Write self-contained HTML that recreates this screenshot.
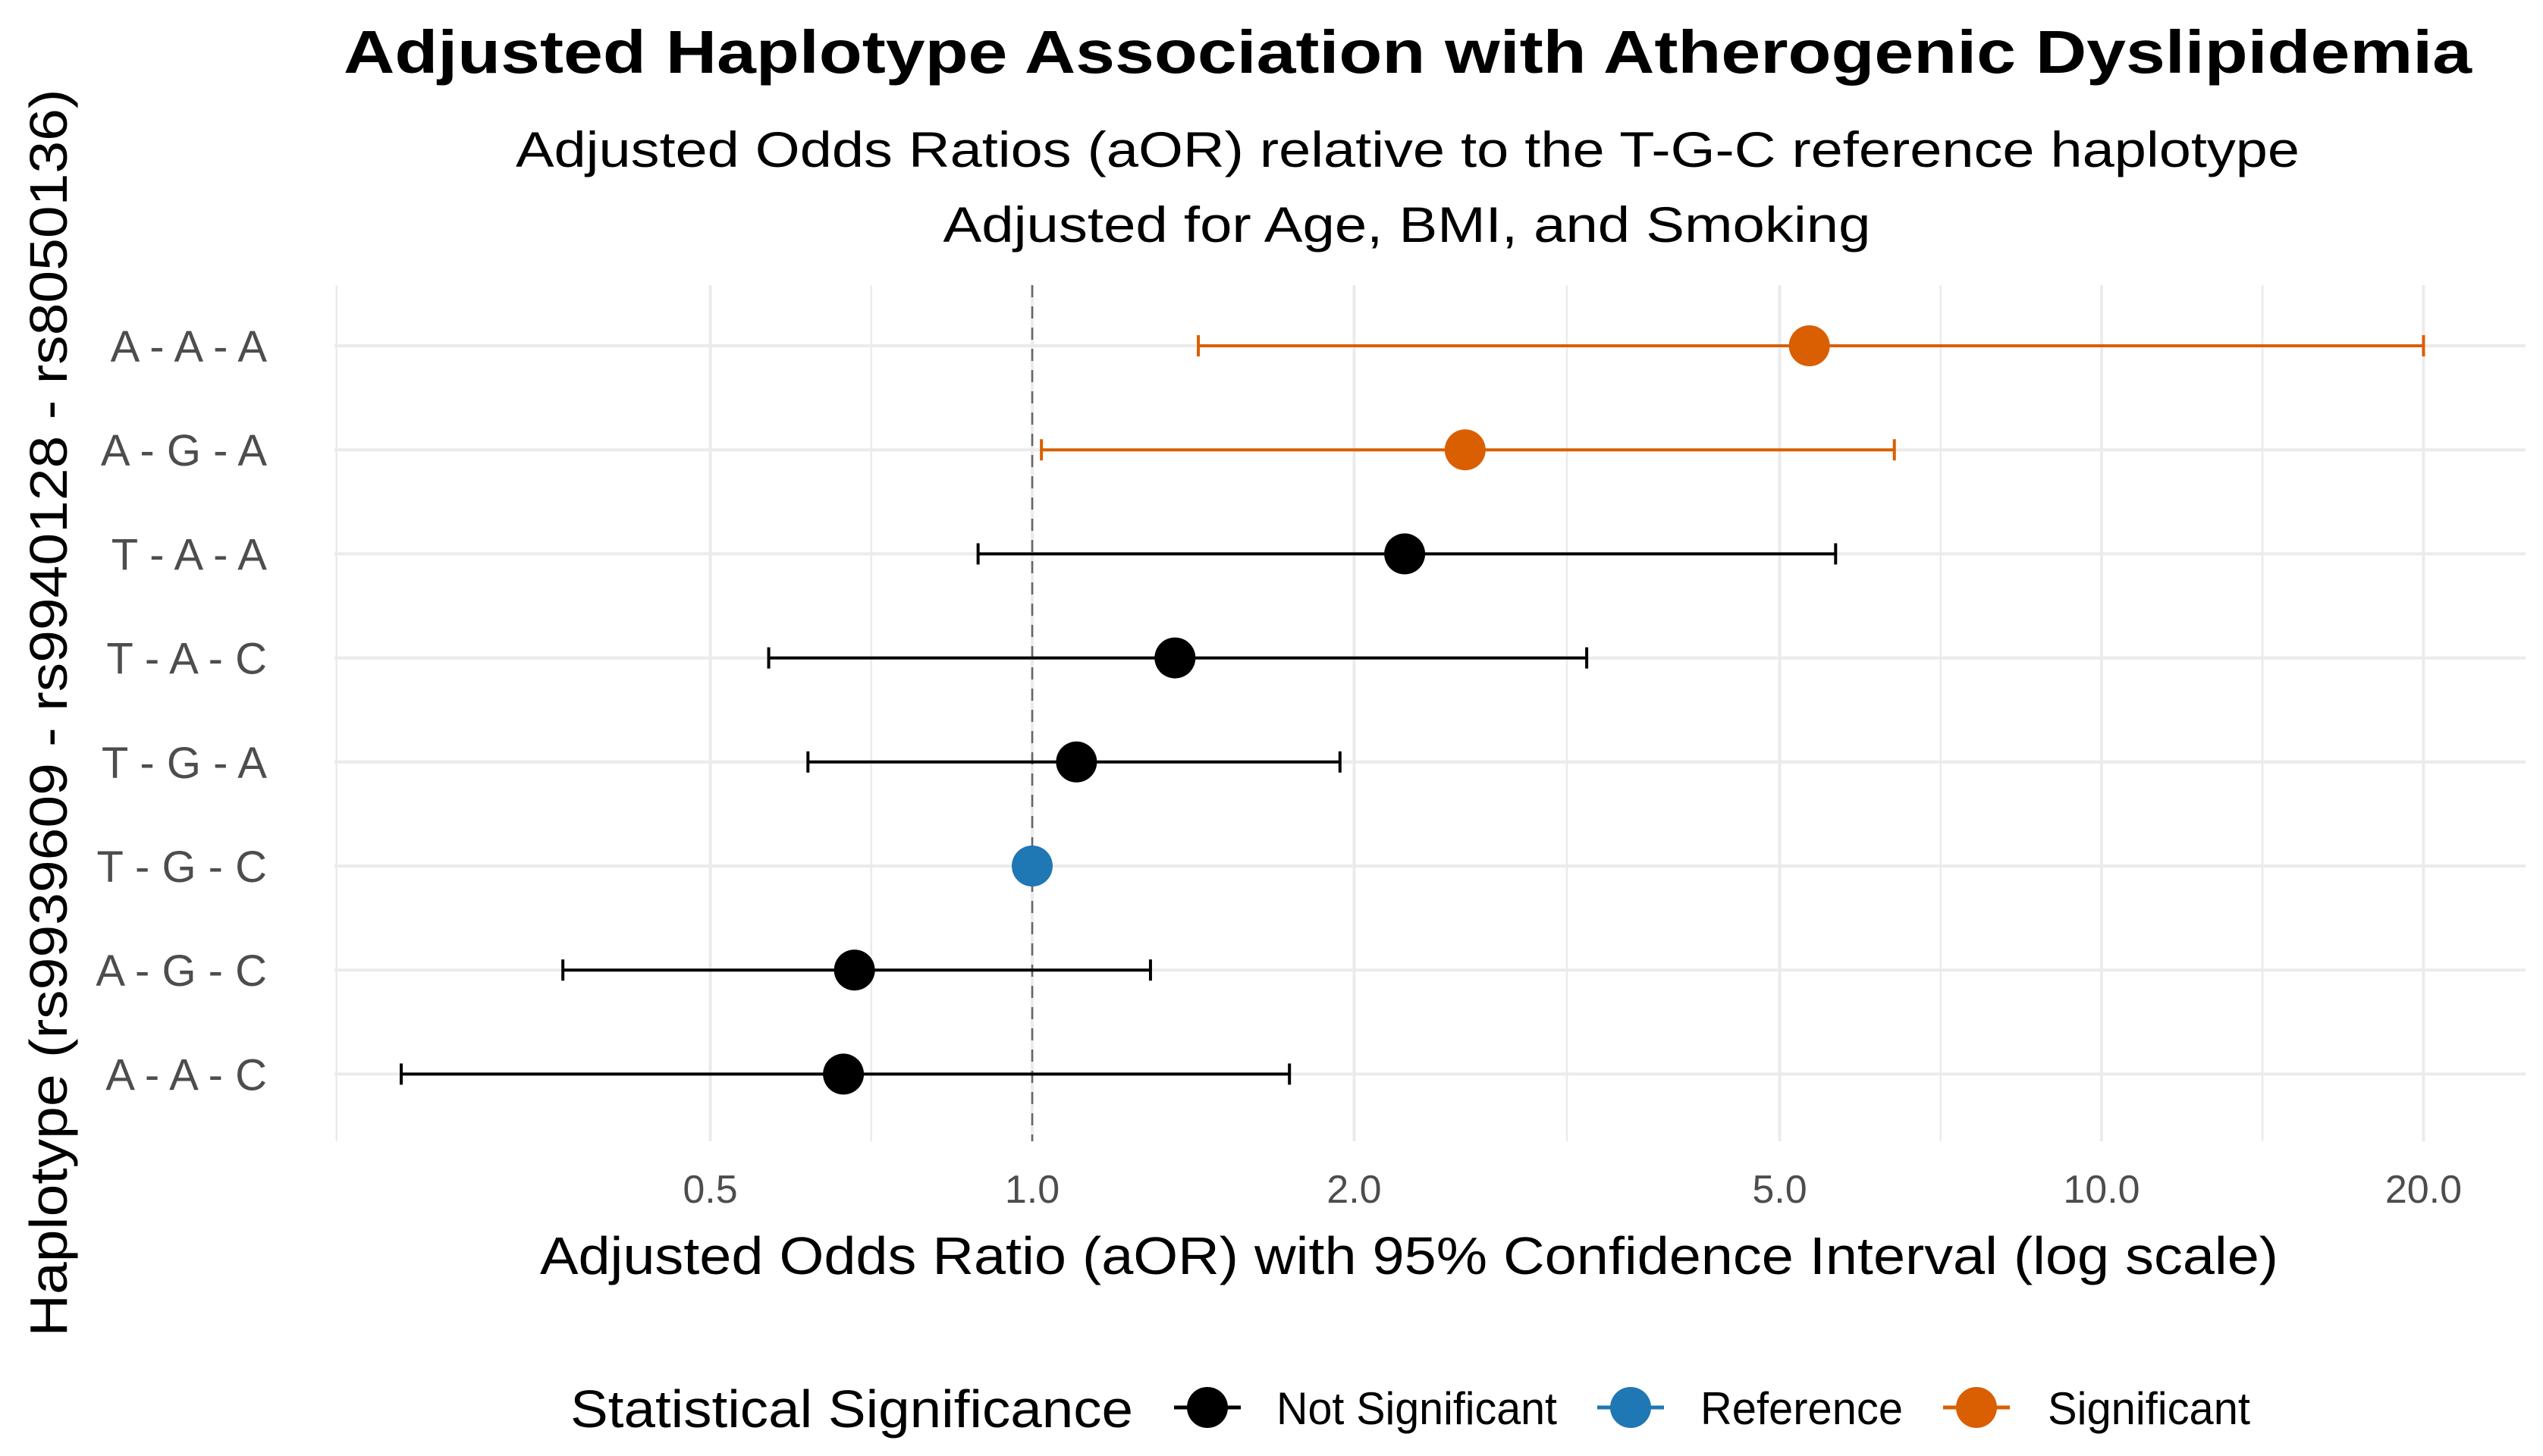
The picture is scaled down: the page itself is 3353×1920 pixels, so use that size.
<!DOCTYPE html>
<html><head><meta charset="utf-8"><style>
html,body{margin:0;padding:0;background:#fff}
svg{display:block;font-family:"Liberation Sans",sans-serif}
</style></head><body>
<svg id="chart" width="3353" height="1920" viewBox="0 0 3353 1920">
<rect width="3353" height="1920" fill="#fff"/>
<text x="1856" y="96" text-anchor="middle" font-size="80" font-weight="bold" textLength="2806" lengthAdjust="spacingAndGlyphs">Adjusted Haplotype Association with Atherogenic Dyslipidemia</text>
<text x="1856" y="220" text-anchor="middle" font-size="66" textLength="2352" lengthAdjust="spacingAndGlyphs">Adjusted Odds Ratios (aOR) relative to the T-G-C reference haplotype</text>
<text x="1855" y="319" text-anchor="middle" font-size="66" textLength="1223" lengthAdjust="spacingAndGlyphs">Adjusted for Age, BMI, and Smoking</text>
<g id="grid"></g>
<g id="marks"></g>
<text x="1858" y="1680" text-anchor="middle" font-size="70" textLength="2292" lengthAdjust="spacingAndGlyphs">Adjusted Odds Ratio (aOR) with 95% Confidence Interval (log scale)</text>
<text transform="translate(88,940) rotate(-90)" text-anchor="middle" font-size="70" textLength="1645" lengthAdjust="spacingAndGlyphs">Haplotype (rs9939609 - rs9940128 - rs8050136)</text>
<g>
<text x="752" y="1882" font-size="70" textLength="742" lengthAdjust="spacingAndGlyphs">Statistical Significance</text>
<g>
<line x1="1548" x2="1636" y1="1856" y2="1856" stroke="#000" stroke-width="5"/>
<circle cx="1592" cy="1856" r="27" fill="#000"/>
<text x="1683" y="1878" font-size="60" textLength="370" lengthAdjust="spacingAndGlyphs">Not Significant</text></g>
<g>
<line x1="2106" x2="2194" y1="1856" y2="1856" stroke="#1F77B4" stroke-width="5"/>
<circle cx="2150" cy="1856" r="27" fill="#1F77B4"/>
<text x="2242" y="1878" font-size="60" textLength="267" lengthAdjust="spacingAndGlyphs">Reference</text></g>
<g>
<line x1="2562" x2="2650" y1="1856" y2="1856" stroke="#D95F02" stroke-width="5"/>
<circle cx="2606" cy="1856" r="27" fill="#D95F02"/>
<text x="2700" y="1878" font-size="60" textLength="267" lengthAdjust="spacingAndGlyphs">Significant</text></g>
</g>
</svg>
<script>
const haplotypes = ["A - A - A","A - G - A","T - A - A","T - A - C","T - G - A","T - G - C","A - G - C","A - A - C"];
const aor = [5.33, 2.54, 2.23, 1.36, 1.10, 1.00, 0.682, 0.666];
const ciLow = [1.43, 1.02, 0.89, 0.567, 0.617, null, 0.364, 0.257];
const ciHigh = [20.0, 6.40, 5.64, 3.30, 1.94, null, 1.29, 1.74];
const significance = ["Significant","Significant","Not Significant","Not Significant","Not Significant","Reference","Not Significant","Not Significant"];
const majorTicks = [0.5, 1, 2, 5, 10, 20];
const tickLabels = ["0.5","1.0","2.0","5.0","10.0","20.0"];
const minorTicks = [0.2236, 0.7071, 3.162, 7.071, 14.14];

const NS = "http://www.w3.org/2000/svg";
const colors = {"Significant":"#D95F02","Not Significant":"#000","Reference":"#1F77B4"};
const panel = {left:441, right:3330, top:376, bottom:1505};
function xScale(v){ return 1361 + Math.log10(v) * 1410; }
function yScale(i){ return 456 + i * 137.2; }
function mk(tag, attrs, parent){ const e=document.createElementNS(NS,tag); for(const k in attrs) e.setAttribute(k,attrs[k]); parent.appendChild(e); return e; }
const grid = document.getElementById('grid');
const marks = document.getElementById('marks');
minorTicks.forEach(v=>{
  const l = mk('line',{x1:xScale(v),x2:xScale(v),y1:panel.top,y2:panel.bottom,stroke:'#ebebeb','stroke-width':2.5},grid);
  
  
});
majorTicks.forEach((v,i)=>{
  const l = mk('line',{x1:xScale(v),x2:xScale(v),y1:panel.top,y2:panel.bottom,stroke:'#ebebeb','stroke-width':4},grid);
  
  
  const t = mk('text',{x:xScale(v),y:1586,'text-anchor':'middle','font-size':52,fill:'#4d4d4d'},grid);
  t.textContent = tickLabels[i];
  
  
});
haplotypes.forEach((h,i)=>{
  const y=yScale(i);
  const l = mk('line',{x1:panel.left,x2:panel.right,y1:y,y2:y,stroke:'#ebebeb','stroke-width':4},grid);
  
  
  const t = mk('text',{x:352,y:y+21,'text-anchor':'end','font-size':58,fill:'#4d4d4d'},grid);
  t.textContent = h;
  
  
});
const ref = mk('line',{x1:xScale(1),x2:xScale(1),y1:panel.top,y2:panel.bottom,stroke:'#666','stroke-width':2.5,'stroke-dasharray':'16,12'},grid);


haplotypes.forEach((h,i)=>{
  const y=yScale(i), c=colors[significance[i]];
  if(ciLow[i]!==null){
    const g = mk('g',{stroke:c,'stroke-width':4},marks);
    
    
    mk('line',{x1:xScale(ciLow[i]),x2:xScale(ciHigh[i]),y1:y,y2:y},g);
    mk('line',{x1:xScale(ciLow[i]),x2:xScale(ciLow[i]),y1:y-14,y2:y+14},g);
    mk('line',{x1:xScale(ciHigh[i]),x2:xScale(ciHigh[i]),y1:y-14,y2:y+14},g);
  }
  const p = mk('circle',{cx:xScale(aor[i]),cy:y,r:27,fill:c},marks);
  
  
});
</script>
</body></html>
